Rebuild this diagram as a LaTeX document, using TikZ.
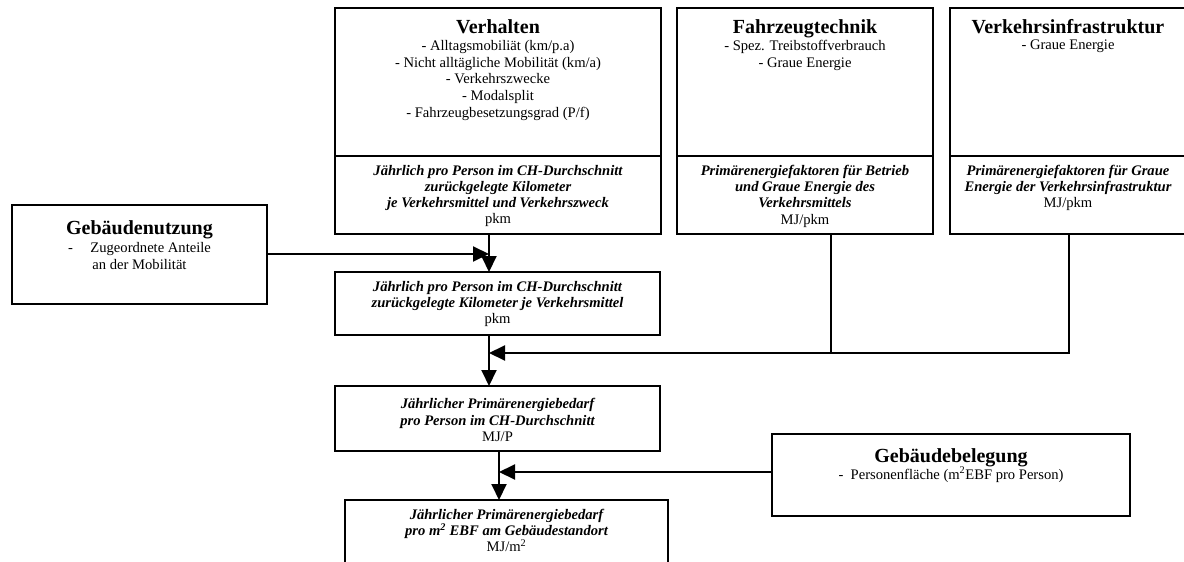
\documentclass[tikz,border=0pt]{standalone}
\usepackage{fontspec}
\setmainfont{Liberation Serif}
\usetikzlibrary{arrows.meta}
\tikzset{
  box/.style={draw, line width=1.5pt, inner sep=0pt, outer sep=0pt},
  ttl/.style={font=\fontsize{20}{22}\selectfont\bfseries, inner sep=0pt},
  body/.style={font=\fontsize{14.6}{16.7}\selectfont, align=center, inner sep=0pt},
  itx/.style={font=\fontsize{14.6}{16.2}\selectfont\bfseries\itshape, align=center, inner sep=0pt},
  arr/.style={line width=2pt, -{Triangle[length=16pt,width=15pt]}},
  ln/.style={line width=1.6pt},
}
\begin{document}
\begin{tikzpicture}[x=1pt,y=-1pt]
\useasboundingbox (0,0) rectangle (1184,562);
\clip (0,0) rectangle (1184,562);
% upper boxes
\node[box, minimum width=326pt, minimum height=148pt] (verhT) at (498,82) {};
\node[box, minimum width=326pt, minimum height=78pt] (verhB) at (498,195) {};
\node[box, minimum width=256pt, minimum height=148pt] (fzT) at (805,82) {};
\node[box, minimum width=256pt, minimum height=78pt] (fzB) at (805,195) {};
\node[box, minimum width=270pt, minimum height=148pt] (vkT) at (1085,82) {};
\node[box, minimum width=270pt, minimum height=78pt] (vkB) at (1085,195) {};
% texts upper
\node[ttl, anchor=base] (verhTitle) at (498,33) {Verhalten};
\node[body, anchor=north] (verhList) at (498,40) {- Alltagsmobiliät (km/p.a)\\- Nicht alltägliche Mobilität (km/a)\\- Verkehrszwecke\\- Modalsplit\\- Fahrzeugbesetzungsgrad (P/f)};
\node[ttl, anchor=base] (fzTitle) at (805,33) {Fahrzeugtechnik};
\node[body, anchor=north] (fzList) at (805,40) {- Spez. Treibstoffverbrauch\\- Graue Energie};
\node[ttl, anchor=base] (vkTitle) at (1068,33) {Verkehrsinfrastruktur};
\node[body, anchor=north] (vkList) at (1068,40) {- Graue Energie};
\node[itx, anchor=north] (verhOut) at (498,165) {Jährlich pro Person im CH-Durchschnitt\\zurückgelegte Kilometer\\je Verkehrsmittel und Verkehrszweck\\\normalfont pkm};
\node[itx, anchor=north] (fzOut) at (805,165) {Primärenergiefaktoren für Betrieb\\und Graue Energie des\\Verkehrsmittels\\\normalfont MJ/pkm};
\node[itx, anchor=north] (vkOut) at (1068,165) {Primärenergiefaktoren für Graue\\Energie der Verkehrsinfrastruktur\\\normalfont MJ/pkm};
% Gebaeudenutzung
\node[box, minimum width=255pt, minimum height=99pt] (gn) at (139.5,254.5) {};
\node[ttl, anchor=base] (gnTitle) at (139.5,234) {Gebäudenutzung};
\node[body, anchor=north] (gnList) at (139.5,242) {-\hspace{1.2em}Zugeordnete Anteile\\an der Mobilität};
% chain boxes
\node[box, minimum width=325pt, minimum height=63pt] (b2) at (497.5,303.5) {};
\node[itx] (b2t) at (497.5,304) {Jährlich pro Person im CH-Durchschnitt\\zurückgelegte Kilometer je Verkehrsmittel\\\normalfont pkm};
\node[box, minimum width=325pt, minimum height=65pt] (b3) at (497.5,418.5) {};
\node[itx] (b3t) at (497.5,420) {Jährlicher Primärenergiebedarf\\pro Person im CH-Durchschnitt\\\normalfont MJ/P};
\node[box, minimum width=323pt, minimum height=100pt] (b4) at (506.5,550) {};
\node[itx, anchor=north] (b4t) at (506.5,509) {Jährlicher Primärenergiebedarf\\pro m\textsuperscript{2} EBF am Gebäudestandort\\\normalfont MJ/m\textsuperscript{2}};
% Gebaeudebelegung
\node[box, minimum width=358pt, minimum height=82pt] (gb) at (951,475) {};
\node[ttl, anchor=base] (gbTitle) at (951,462) {Gebäudebelegung};
\node[body, anchor=north] (gbList) at (951,467) {-\hspace{0.5em}Personenfläche (m\textsuperscript{2}EBF pro Person)};
% connectors
\coordinate (j1) at (489,254);
\coordinate (j2) at (489,353);
\coordinate (j3) at (499,472);
\coordinate (c1) at (831,353);
\coordinate (c2) at (1069,353);
\draw[arr] (verhB.south -| j1) -- (b2.north -| j1);
\draw[arr] (gn.east |- j1) -- (j1);
\draw[arr] (b2.south -| j2) -- (b3.north -| j2);
\draw[ln] (fzB.south -| c1) -- (c1);
\draw[ln] (vkB.south -| c2) -- (c2) -- (c1);
\draw[arr] (c1) -- (j2);
\draw[arr] (b3.south -| j3) -- (b4.north -| j3);
\draw[arr] (gb.west |- j3) -- (j3);
\end{tikzpicture}
\end{document}
